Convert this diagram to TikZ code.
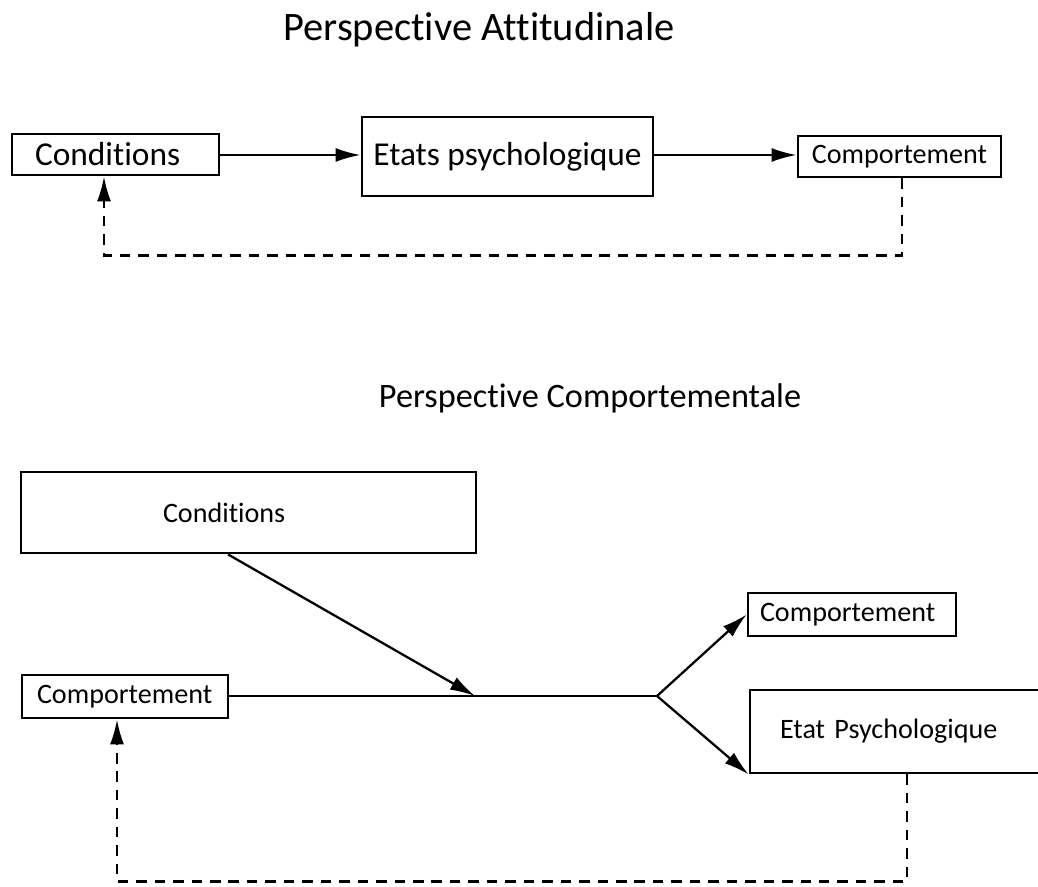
\documentclass[tikz,border=0pt]{standalone}
\usepackage{fontspec}
\setmainfont{Carlito}[Ligatures=NoCommon]
\usetikzlibrary{arrows.meta}

\tikzset{
  box/.style={draw, line width=1.6pt, rectangle, inner ysep=0pt},
  lbox/.style={box, align=left},
  big/.style={font=\fontsize{19}{22}\selectfont},
  small/.style={font=\fontsize{16}{19}\selectfont},
  arr/.style={line width=1.3pt, -{Latex[length=5mm,width=2.8mm]}},
  fb/.style={line width=1.3pt, dash pattern=on 6pt off 4.5pt, -{Latex[length=5mm,width=2.8mm]}}
}

\begin{document}
\begin{tikzpicture}
  \useasboundingbox (0,0) rectangle (20.76,17.72);

  \node[font=\fontsize{23}{27}\selectfont] (titleA) at (9.58,17.12) {Perspective Attitudinale};

  \node[lbox, big, inner xsep=0.46cm, text width=3.22cm, minimum height=0.82cm] (condA) at (2.31,14.63) {Conditions};
  \node[box, big, minimum width=5.82cm, minimum height=1.58cm] (etats) at (10.15,14.59) {Etats psychologique};
  \node[box, small, minimum width=4.06cm, minimum height=0.82cm] (compA) at (17.99,14.59) {Comportement};

  \draw[arr] (condA.east |- 0,14.62) -- (etats.west |- 0,14.62);
  \draw[arr] (etats.east |- 0,14.62) -- (compA.west |- 0,14.62);
  \draw[fb] ([xshift=0.05cm]compA.south) -- ++(0,-1.54) -| ([xshift=-0.23cm]condA.south);

  \node[font=\fontsize{19.5}{23}\selectfont] (titleB) at (11.8,9.76) {Perspective Comportementale};

  \node[lbox, small, inner xsep=2.84cm, text width=3.42cm, minimum height=1.62cm] (condB) at (4.97,7.47) {Conditions};
  \node[lbox, small, inner xsep=0.3cm, text width=3.52cm, minimum height=0.86cm] (compB) at (2.5,3.79) {Comportement};
  \node[lbox, small, inner xsep=0.24cm, text width=3.68cm, minimum height=0.86cm] (compC) at (17.04,5.43) {Comportement};
  \node[lbox, small, inner xsep=0.6cm, text width=4.76cm, minimum height=1.66cm] (etatC) at (17.98,3.09) {Etat Psychologique};

  \coordinate (merge) at (9.5,3.80);
  \coordinate (split) at (13.14,3.80);

  \draw[line width=1.3pt] (compB.east |- split) -- (split);
  \draw[arr] ([xshift=-0.41cm]condB.south) -- (merge);
  \draw[arr] (split) -- (compC.west);
  \draw[arr] (split) -- (etatC.south west);
  \draw[fb] ([xshift=0.16cm]etatC.south) -- ++(0,-2.14) -| ([xshift=-0.16cm]compB.south);
\end{tikzpicture}
\end{document}
